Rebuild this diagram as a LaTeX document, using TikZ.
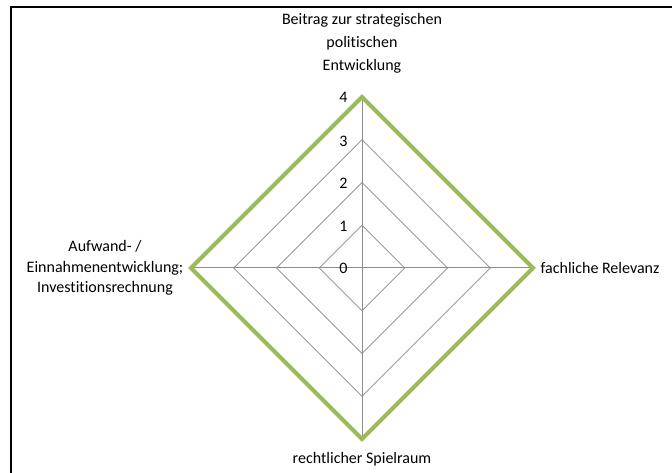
\documentclass[tikz,border=0pt]{standalone}
\usepackage{fontspec}
\setmainfont{Carlito}[Ligatures=NoCommon]
\usetikzlibrary{positioning,calc}

\definecolor{olivgruen}{RGB}{155,187,89}

\tikzset{
  gridline/.style={draw=black!40, line width=0.6pt},
  axisline/.style={draw=black!45, line width=0.75pt},
  serie/.style={draw=olivgruen, line width=3pt, line join=miter},
  axlabel/.style={font=\fontsize{12}{16.5}\selectfont, align=center, inner sep=1pt},
  ticklabel/.style={font=\fontsize{12}{12}\selectfont, anchor=east, inner sep=1pt}
}

\begin{document}
\begin{tikzpicture}[x=0.75pt, y=-0.75pt]
\useasboundingbox (0,0) rectangle (672,473);
% Rahmen
\draw[line width=1.2pt] (11,473) -- (11,7) -- (672,7);

% Mittelpunkt und Achsenenden
\coordinate (m) at (362,268);
\foreach \r in {1,2,3,4} {
  \coordinate (o\r) at ($(m)+(0,-42.75*\r)$);
  \coordinate (r\r) at ($(m)+(42.75*\r,0)$);
  \coordinate (u\r) at ($(m)+(0,42.75*\r)$);
  \coordinate (l\r) at ($(m)+(-42.75*\r,0)$);
}

% Gitter
\foreach \r in {1,2,3} {
  \draw[gridline] (o\r) -- (r\r) -- (u\r) -- (l\r) -- cycle;
}
\draw[axisline] (m) -- (o4);
\draw[axisline] (m) -- (r4);
\draw[axisline] (m) -- (u4);
\draw[axisline] (m) -- (l4);

% Datenreihe
\draw[serie] (o4) -- (r4) -- (u4) -- (l4) -- cycle;

% Skala
\node[ticklabel] (t0) at (349,268) {0};
\node[ticklabel] (t1) at (349,226) {1};
\node[ticklabel] (t2) at (349,183) {2};
\node[ticklabel] (t3) at (349,141) {3};
\node[ticklabel] (t4) at (349,97) {4};

% Kategorien
\node[axlabel, font=\fontsize{12}{17.3}\selectfont] (beitrag) at (362,43) {Beitrag zur strategischen\\politischen\\Entwicklung};
\node[axlabel, anchor=west] (fachlich) at (539,268) {fachliche Relevanz};
\node[axlabel] (recht) at (362,459) {rechtlicher Spielraum};
\node[axlabel, font=\fontsize{12}{15.4}\selectfont] (aufwand) at (105,268) {Aufwand- /\\Einnahmenentwicklung;\\Investitionsrechnung};
\end{tikzpicture}
\end{document}
